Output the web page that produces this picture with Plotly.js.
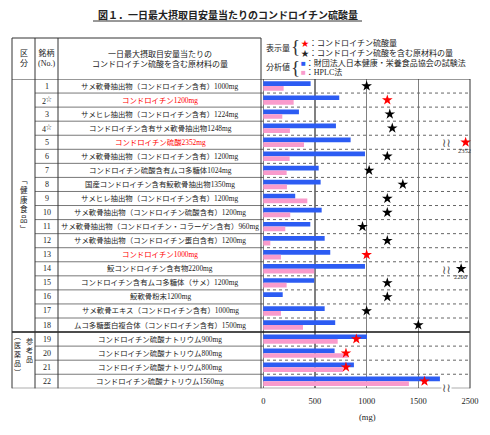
<!DOCTYPE html>
<html>
<head>
<meta charset="utf-8">
<script src="https://cdn.plot.ly/plotly-3.0.1.min.js"></script>
<style>html,body{margin:0;padding:0;background:#fff}</style>
</head>
<body>
<div id="gd" style="width:490px;height:435px"></div>
<script>
// --- data ---
const rowNos = ['1','2<sup>☆</sup>','3','4<sup>☆</sup>','5','6','7','8','9','10','11',
    '12','13','14','15','16','17','18','19','20','21','22'];
const productNames = [
    'サメ軟骨抽出物（コンドロイチン含有）1000mg',
    'コンドロイチン1200mg',
    'サメヒレ抽出物（コンドロイチン含有）1224mg',
    'コンドロイチン含有サメ軟骨抽出物1248mg',
    'コンドロイチン硫酸2352mg',
    'サメ軟骨抽出物（コンドロイチン含有）1200mg',
    'コンドロイチン硫酸含有ムコ多糖体1024mg',
    '国産コンドロイチン含有鮫軟骨抽出物1350mg',
    'サメヒレ抽出物（コンドロイチン含有）1200mg',
    'サメ軟骨抽出物（コンドロイチン硫酸含有）1200mg',
    'サメ軟骨抽出物（コンドロイチン・コラーゲン含有）960mg',
    'サメ軟骨抽出物（コンドロイチン蛋白含有）1200mg',
    'コンドロイチン1000mg',
    '鮫コンドロイチン含有物2200mg',
    'コンドロイチン含有ムコ多糖体（サメ）1200mg',
    '鮫軟骨粉末1200mg',
    'サメ軟骨エキス（コンドロイチン含有）1000mg',
    'ムコ多糖蛋白複合体（コンドロイチン含有）1500mg',
    'コンドロイチン硫酸ナトリウム900mg',
    'コンドロイチン硫酸ナトリウム800mg',
    'コンドロイチン硫酸ナトリウム800mg',
    'コンドロイチン硫酸ナトリウム1560mg'
];
const redNameRows = [2, 5, 13];
// 分析値 (mg)
const jhnfaValues = [458, 735, 345, 703, 845, 984, 536, 555, 309, 565, 455,
    594, 648, 984, 493, 188, 594, 696, 1003, 690, 877, 1709];
const hplcValues = [197, 294, 184, 258, 394, 255, 226, 229, 426, 261, 213,
    68, 171, 493, 226, 0, 171, 384, 720, 819, 771, 1409];
// 表示量 (mg) and its kind: S = コンドロイチン硫酸量, M = 原材料の量
const labelAmounts = [1000, 1200, 1224, 1248, 2352, 1200, 1024, 1350, 1200, 1200, 960,
    1200, 1000, 2200, 1200, 1200, 1000, 1500, 900, 800, 800, 1560];
const labelKind = ['M','S','M','M','S','M','M','M','M','M','M',
    'M','S','M','M','M','M','M','S','S','S','S'];
const tickValues = [0, 500, 1000, 1500, 2500];
const healthFoodCount = 18;

// --- axis break: values above BREAK are squeezed so 2500 lands at AXMAX ---
const BREAK = 1800, AXMAX = 2000, LABMAX = 2500;
function disp(v) {
    return v <= BREAK ? v : BREAK + (v - BREAK) * (AXMAX - BREAK) / (LABMAX - BREAK);
}

const W = 490, H = 435;
const px = x => x / W;
const py = y => 1 - y / H;

const BLUE = '#2c5cf3';
const PINK = '#f99bcc';
const FONT = 'Liberation Serif, Noto Sans CJK JP';
const INK = '#222';

const rows = productNames.map((_, i) => i);

let traceBlue = {
    x: jhnfaValues.map(disp),
    y: rows,
    type: 'bar',
    orientation: 'h',
    name: '財団法人日本健康・栄養食品協会の試験法',
    marker: {color: BLUE},
    hoverinfo: 'none'
};
let tracePink = {
    x: hplcValues.map(disp),
    y: rows,
    type: 'bar',
    orientation: 'h',
    name: 'HPLC法',
    marker: {color: PINK},
    hoverinfo: 'none'
};
let traceStars = {
    x: labelAmounts.map(disp),
    y: rows,
    type: 'scatter',
    mode: 'markers',
    name: '表示量',
    cliponaxis: false,
    marker: {
        symbol: 'star',
        size: 8,
        color: labelKind.map(k => k === 'S' ? '#ff0000' : '#000000'),
        line: {width: 0}
    },
    hoverinfo: 'none'
};

// --- table lines ---
let shapes = [];
function hline(x0, x1, y, yref, opts) {
    shapes.push(Object.assign({type: 'line', xref: 'paper', yref: yref,
        x0: px(x0), x1: px(x1), y0: y, y1: y,
        line: {color: '#333', width: 1}}, opts || {}));
}
function vline(x, y0, y1) {
    shapes.push({type: 'line', xref: 'paper', yref: 'paper',
        x0: px(x), x1: px(x), y0: py(y0), y1: py(y1),
        line: {color: '#333', width: 1}});
}
hline(12, 261, py(38), 'paper');
hline(12, 470, -0.5, 'y');
hline(12, 470, rows.length - 0.5, 'y');
for (let i = 1; i < rows.length; i++) {
    if (i === healthFoodCount) {
        hline(12, 470, i - 0.5, 'y', {line: {color: '#111', width: 1.6}});
    } else {
        hline(35, 261, i - 0.5, 'y', {line: {color: '#555', width: 0.8}});
        hline(261, 470, i - 0.5, 'y', {line: {color: '#666', width: 1, dash: 'dot'}});
    }
}
[12, 35, 58, 261].forEach(x => vline(x, 38, 388.3));
vline(470, 79, 388.3);
// title underline
shapes.push({type: 'line', xref: 'paper', yref: 'paper',
    x0: px(93), x1: px(362), y0: py(21), y1: py(21), line: {color: '#333', width: 1}});

// --- text ---
let annotations = [];
function note(text, x, y, size, extra) {
    annotations.push(Object.assign({
        text: text, xref: 'paper', yref: 'paper', x: px(x), y: py(y),
        showarrow: false, xanchor: 'center', yanchor: 'middle',
        font: {family: FONT, size: size, color: INK}
    }, extra || {}));
}
note('区<br>分', 23.5, 58.5, 8);
note('銘柄<br>(No.)', 46.5, 58.5, 8);
note('一日最大摂取目安量当たりの<br>コンドロイチン硫酸を含む原材料の量', 160, 59, 8);

note('表示量', 278, 47.5, 8);
note('{', 295.5, 47, 19, {font: {family: 'Liberation Serif', size: 19, color: '#333'}});
note('<span style="color:#ff0000">★</span>：コンドロイチン硫酸量', 299, 43, 8, {xanchor: 'left'});
note('★：コンドロイチン硫酸を含む原材料の量', 299, 52.5, 8, {xanchor: 'left'});
note('分析値', 278, 67.5, 8);
note('{', 295.5, 67, 19, {font: {family: 'Liberation Serif', size: 19, color: '#333'}});
note('<span style="color:' + BLUE + '">■</span>：財団法人日本健康・栄養食品協会の試験法', 299, 63, 8, {xanchor: 'left'});
note('<span style="color:' + PINK + '">■</span>：HPLC法', 299, 72.5, 8, {xanchor: 'left'});

note('﹁<br>健<br>康<br>食<br>品<br>﹂', 23.5, 205, 7.5);
note('︵<br>医<br>薬<br>品<br>︶', 17.5, 355, 7);
note('参<br>考<br>品', 29.5, 350, 7);

rows.forEach(i => {
    annotations.push({
        text: rowNos[i], xref: 'paper', yref: 'y', x: px(46.5), y: i,
        xanchor: 'center', yanchor: 'middle',
        showarrow: false, font: {family: FONT, size: 8, color: INK}
    });
    annotations.push({
        text: productNames[i], xref: 'paper', yref: 'y', x: px(160), y: i,
        xanchor: 'center', yanchor: 'middle',
        showarrow: false,
        font: {family: FONT, size: 7.4, color: redNameRows.includes(i + 1) ? '#ff0000' : INK}
    });
    if (labelAmounts[i] > BREAK) {
        annotations.push({
            text: String(labelAmounts[i]), xref: 'x', yref: 'y',
            x: disp(labelAmounts[i]), y: i, xshift: -1, yshift: -8,
            xanchor: 'center', yanchor: 'middle',
            showarrow: false, font: {family: FONT, size: 6.5, color: '#333'}
        });
        annotations.push({
            text: '≀≀', xref: 'x', yref: 'y', x: BREAK - 25, y: i, yshift: -1,
            xanchor: 'center', yanchor: 'middle',
            showarrow: false, font: {family: 'DejaVu Sans', size: 12, color: '#555'}
        });
    }
});
// break sign on the axis
annotations.push({
    text: '≀≀', xref: 'x', yref: 'y', x: BREAK - 25, y: rows.length - 0.5,
    xanchor: 'center', yanchor: 'middle',
    showarrow: false, bgcolor: '#fff', borderpad: 0,
    font: {family: 'DejaVu Sans', size: 12, color: '#555'}
});
note('(mg)', 367, 417, 8.5);

let layout = {
    width: W,
    height: H,
    autosize: false,
    margin: {l: 0, r: 0, t: 0, b: 0},
    paper_bgcolor: '#fff',
    plot_bgcolor: '#fff',
    showlegend: false,
    title: {
        text: '<b>図１．一日最大摂取目安量当たりのコンドロイチン硫酸量</b>',
        font: {family: 'Noto Sans CJK JP', size: 10, color: '#222'},
        x: px(228),
        xanchor: 'center',
        xref: 'paper',
        y: py(15),
        yref: 'container',
        yanchor: 'middle'
    },
    barmode: 'group',
    bargap: 0.33,
    bargroupgap: 0,
    xaxis: {
        domain: [px(261), px(470)],
        range: [-22, AXMAX],
        tickvals: tickValues.map(disp),
        ticktext: tickValues.map(String),
        showgrid: true,
        gridcolor: '#808080',
        gridwidth: 1.3,
        zeroline: false,
        showline: false,
        ticks: '',
        ticklabelstandoff: 6,
        tickfont: {family: FONT, size: 8.5, color: INK},
        fixedrange: true
    },
    yaxis: {
        domain: [py(388.3), py(79)],
        range: [rows.length - 0.5, -0.5],
        showgrid: false,
        zeroline: false,
        showticklabels: false,
        ticks: '',
        fixedrange: true
    },
    shapes: shapes,
    annotations: annotations
};

Plotly.newPlot('gd', [traceBlue, tracePink, traceStars], layout, {staticPlot: true});
</script>
</body>
</html>
